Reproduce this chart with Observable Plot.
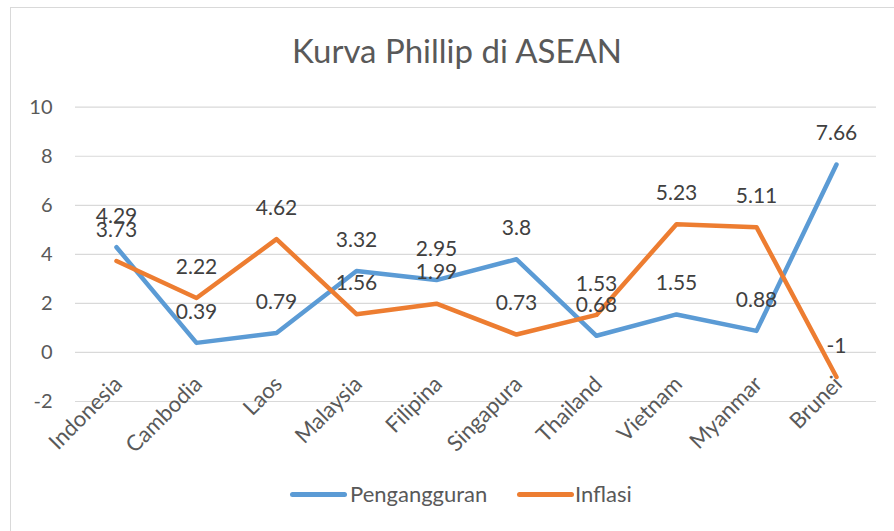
<!DOCTYPE html>
<html>
<head>
<meta charset="utf-8">
<script src="https://cdn.jsdelivr.net/npm/d3@7"></script>
<script src="https://cdn.jsdelivr.net/npm/@observablehq/plot@0.6"></script>
<style>
  body { margin: 0; background: #fff; }
  #wrap { position: relative; width: 894px; height: 531px; overflow: hidden; font-family: Lato, "Open Sans", sans-serif; }
  #frame { position: absolute; left: 10px; top: 7px; width: 1000px; height: 1000px; border-left: 1.5px solid #d9d9d9; border-top: 1.5px solid #d9d9d9; box-sizing: border-box; }
  #title { position: absolute; left: 10px; width: 894px; top: 34px; text-align: center; font-size: 33px; line-height: 1; color: #595959; white-space: nowrap; }
  #chart { position: absolute; left: 0; top: 0; }
  .lg-line { position: absolute; height: 4.5px; border-radius: 3px; }
  .lg-text { position: absolute; font-size: 22px; line-height: 1; color: #595959; white-space: nowrap; }
</style>
</head>
<body>
<div id="wrap">
  <div id="frame"></div>
  <div id="title">Kurva Phillip di ASEAN</div>
  <div id="chart"></div>
  <div id="legend"></div>
</div>
<script>
const categories = ["Indonesia", "Cambodia", "Laos", "Malaysia", "Filipina", "Singapura", "Thailand", "Vietnam", "Myanmar", "Brunei"];
const pengangguran = [4.29, 0.39, 0.79, 3.32, 2.95, 3.8, 0.68, 1.55, 0.88, 7.66];
const inflasi = [3.73, 2.22, 4.62, 1.56, 1.99, 0.73, 1.53, 5.23, 5.11, -1];
const yTicks = [-2, 0, 2, 4, 6, 8, 10];
const seriesNames = ["Pengangguran", "Inflasi"];
const seriesColors = ["#5B9BD5", "#ED7D31"];

const rows = [];
categories.forEach((c, i) => {
  rows.push({negara: c, seri: seriesNames[0], nilai: pengangguran[i]});
  rows.push({negara: c, seri: seriesNames[1], nilai: inflasi[i]});
});

const chart = Plot.plot({
  width: 894,
  height: 531,
  marginTop: 106.7,
  marginBottom: 130,
  marginLeft: 75,
  marginRight: 18,
  style: { fontFamily: "Lato, 'Open Sans', sans-serif", fontSize: "20px", background: "transparent", overflow: "visible" },
  x: { type: "point", domain: categories, padding: 0.5, axis: null },
  y: { domain: [-2, 10], axis: null },
  color: { domain: seriesNames, range: seriesColors },
  marks: [
    Plot.ruleY(yTicks, { stroke: "#d9d9d9", strokeWidth: 1.2 }),
    Plot.axisY({ ticks: yTicks, tickSize: 0, tickPadding: 23, tickFormat: d => String(d), fill: "#595959", fontSize: 20, label: null }),
    Plot.text(categories, { x: d => d, y: () => 0, text: d => d, rotate: -45, textAnchor: "end", dx: 2, dy: 28, fill: "#595959", fontSize: 22 }),
    Plot.line(rows, { x: "negara", y: "nilai", z: "seri", stroke: "seri", strokeWidth: 4.5, strokeLinejoin: "round", strokeLinecap: "round" }),
    Plot.text(rows, { x: "negara", y: "nilai", text: d => String(d.nilai), dy: -31, fill: "#404040", fontSize: 21 })
  ]
});
document.getElementById("chart").appendChild(chart);

// legend
const legend = document.getElementById("legend");
const legendPos = [{line: 290, text: 350}, {line: 517, text: 575}];
seriesNames.forEach((name, i) => {
  const ln = document.createElement("div");
  ln.className = "lg-line";
  ln.style.left = legendPos[i].line + "px";
  ln.style.top = "492px";
  ln.style.width = "57px";
  ln.style.background = seriesColors[i];
  legend.appendChild(ln);
  const tx = document.createElement("div");
  tx.className = "lg-text";
  tx.style.left = legendPos[i].text + "px";
  tx.style.top = "482.5px";
  tx.textContent = name;
  legend.appendChild(tx);
});
</script>
</body>
</html>
